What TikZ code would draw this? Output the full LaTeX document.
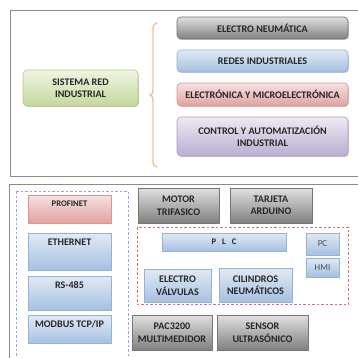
\documentclass[tikz,border=0pt]{standalone}
\usepackage{fontspec}
\setmainfont{Carlito}
\usetikzlibrary{shadows,shadings}
\definecolor{gtop}{HTML}{E0E0E0}
\definecolor{gbot}{HTML}{808080}
\definecolor{gline}{HTML}{767676}
\definecolor{btop}{HTML}{E1EAF5}
\definecolor{bbot}{HTML}{A6C0E0}
\definecolor{bline}{HTML}{95B3D7}
\definecolor{rtop}{HTML}{F6E2E1}
\definecolor{rbot}{HTML}{E0A2A0}
\definecolor{rline}{HTML}{D99694}
\definecolor{grtop}{HTML}{F0F5E4}
\definecolor{grbot}{HTML}{C4D89C}
\definecolor{grline}{HTML}{B5CC85}
\definecolor{ptop}{HTML}{EEE9F3}
\definecolor{pbot}{HTML}{BBADD1}
\definecolor{pline}{HTML}{B2A2C7}
\definecolor{frameline}{HTML}{8C8C8C}
\definecolor{braceor}{HTML}{F6C29A}
\definecolor{bdash}{HTML}{8EAADB}
\definecolor{rdash}{HTML}{E06B6B}
\tikzset{
  x=1pt, y=-1pt,
  base/.style={draw, line width=0.7pt, inner sep=1pt, align=center,
    font=\fontsize{10.1}{12.5}\selectfont\bfseries, text=black!85,
    drop shadow={shadow xshift=0.8pt, shadow yshift=-1pt, opacity=0.35, fill=black!60}},
  graybox/.style={base, draw=gline, top color=gtop, bottom color=gbot},
  bluebox/.style={base, draw=bline, top color=btop, bottom color=bbot},
  redbox/.style={base, draw=rline, top color=rtop, bottom color=rbot},
  greenbox/.style={base, draw=grline, top color=grtop, bottom color=grbot},
  purplebox/.style={base, draw=pline, top color=ptop, bottom color=pbot},
  rnd/.style={rounded corners=4pt},
  frame/.style={draw=frameline, line width=0.8pt},
  toplbl/.style={anchor=center, yshift=-9.5pt, font=\fontsize{10.1}{12.5}\selectfont\bfseries, text=black!85, inner sep=0pt},
}
\begin{document}
\begin{tikzpicture}
\useasboundingbox (0,0) rectangle (357,358);
\fill[white] (0,0) rectangle (357,358);
% frames
\draw[frame] (10,10.7) rectangle (364,176);
\draw[frame] (9,184.5) rectangle (364,366);
% top part
\node[greenbox, rnd, minimum width=115pt, minimum height=36pt] (sys) at (80.5,88) {SISTEMA RED\\INDUSTRIAL};
\node[graybox, rnd, minimum width=171pt, minimum height=22pt] (en) at (262.5,28) {ELECTRO NEUMÁTICA};
\node[bluebox, rnd, minimum width=171pt, minimum height=22pt] (ri) at (262.5,61) {REDES INDUSTRIALES};
\node[redbox, rnd, minimum width=171pt, minimum height=23pt] (em) at (262.5,94.5) {ELECTRÓNICA Y MICROELECTRÓNICA};
\node[purplebox, rnd, minimum width=171pt, minimum height=39pt] (ca) at (262.5,136.5) {CONTROL Y AUTOMATIZACIÓN\\INDUSTRIAL};
\coordinate (bt) at (157,23);
\coordinate (bb) at (157,167);
\draw[braceor, line width=1.4pt, line cap=round] (bt) .. controls (154,23) and (153,25) .. (153,30) -- (153,89) .. controls (153,93) and (152,95) .. (150,95) .. controls (152,95) and (153,97) .. (153,101) -- (153,160) .. controls (153,165) and (154,167) .. (bb);
% bottom part
\draw[bdash, dashed, line width=0.8pt, dash pattern=on 2.5pt off 2pt] (16,191) rectangle (128,366);
\draw[rdash, dashed, line width=0.8pt, dash pattern=on 2.5pt off 2pt] (137,227) rectangle (348,304);
\node[redbox, minimum width=83pt, minimum height=28pt, label={[toplbl, font=\fontsize{8.6}{10}\selectfont\bfseries]north:PROFINET}] (pn) at (69.5,209) {};
\node[bluebox, minimum width=83pt, minimum height=37pt, label={[toplbl]north:ETHERNET}] (eth) at (69.5,251.5) {};
\node[bluebox, minimum width=83pt, minimum height=34pt, label={[toplbl]north:RS-485}] (rs) at (69.5,293) {};
\node[bluebox, minimum width=83pt, minimum height=28pt, label={[toplbl]north:MODBUS TCP/IP}] (mb) at (69.5,329) {};
\node[graybox, minimum width=81pt, minimum height=35pt] (mt) at (178.5,205.5) {MOTOR\\TRIFASICO};
\node[graybox, minimum width=82pt, minimum height=35pt] (ta) at (271,205.5) {TARJETA\\ARDUINO};
\node[bluebox, minimum width=124pt, minimum height=18pt, font=\fontsize{8.6}{10}\selectfont\bfseries] (plc) at (224,242) {P\hspace{6pt}L\hspace{6pt}C};
\node[bluebox, minimum width=33pt, minimum height=22pt, font=\fontsize{9}{10}\selectfont, text=black!70] (pc) at (322.5,244) {PC};
\node[bluebox, minimum width=33pt, minimum height=19pt, font=\fontsize{9}{10}\selectfont, text=black!70] (hmi) at (322.5,267.5) {HMI};
\node[bluebox, minimum width=67pt, minimum height=33pt] (ev) at (177.5,285.5) {ELECTRO\\VÁLVULAS};
\node[bluebox, minimum width=73pt, minimum height=34pt] (cn) at (255.5,285) {CILINDROS\\NEUMÁTICOS};
\node[graybox, minimum width=80pt, minimum height=35pt] (pac) at (172,332.5) {PAC3200\\MULTIMEDIDOR};
\node[graybox, minimum width=91pt, minimum height=35pt] (su) at (262.5,332.5) {SENSOR\\ULTRASÓNICO};
\end{tikzpicture}
\end{document}
